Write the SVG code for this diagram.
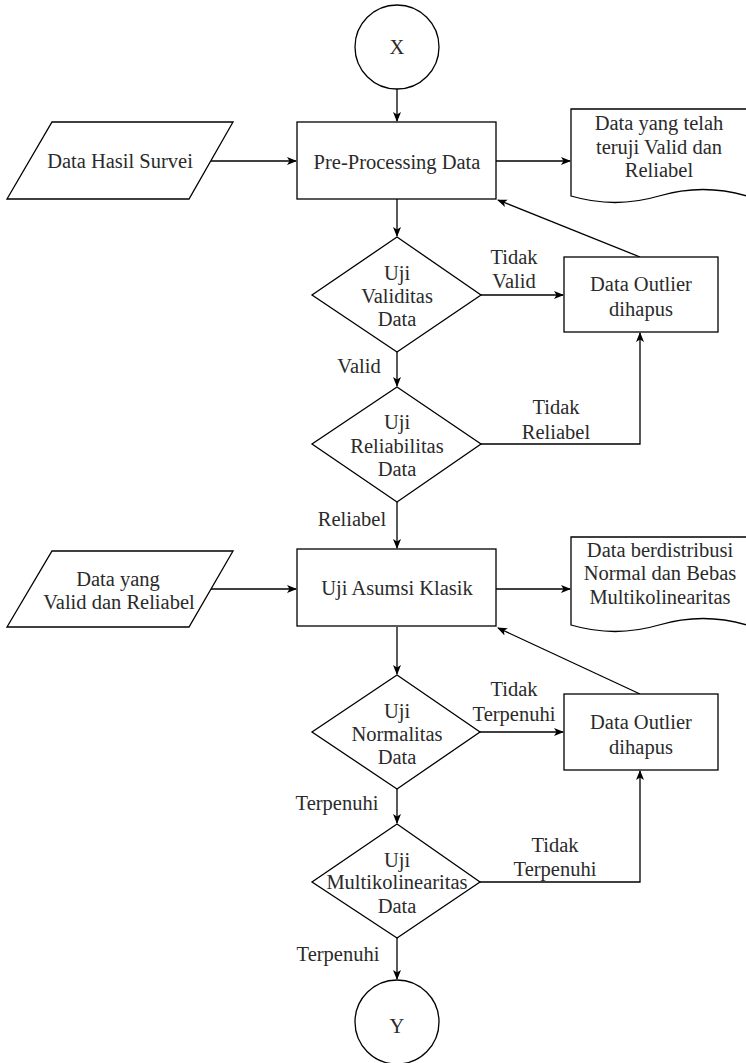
<svg xmlns="http://www.w3.org/2000/svg" width="746" height="1063" viewBox="0 0 746 1063">
<style>
.s{fill:#fff;stroke:#000;stroke-width:1.3}
.t{font-family:"Liberation Serif","Times New Roman",serif;font-size:20.5px;fill:#2a2a2a;text-anchor:middle}
.e{fill:none;stroke:#000;stroke-width:1.3}
</style>
<defs>
<marker id="a" viewBox="0 0 10 10" refX="9" refY="5" markerWidth="10" markerHeight="10" markerUnits="userSpaceOnUse" orient="auto">
<path d="M0,1 L10,5 L0,9 L2.5,5 Z" fill="#000"/>
</marker>
</defs>
<rect width="746" height="1063" fill="#fff"/>
<g id="connectors">
<path class="e" d="M397,89 V121" marker-end="url(#a)"/>
<path class="e" d="M211,161 H296" marker-end="url(#a)"/>
<path class="e" d="M496,161 H570" marker-end="url(#a)"/>
<path class="e" d="M397,199 V236" marker-end="url(#a)"/>
<path class="e" d="M481,295 H563" marker-end="url(#a)"/>
<path class="e" d="M640,257 L498,200" marker-end="url(#a)"/>
<path class="e" d="M397,352 V386" marker-end="url(#a)"/>
<path class="e" d="M481,444 H640 V333" marker-end="url(#a)"/>
<path class="e" d="M397,502 V548" marker-end="url(#a)"/>
<path class="e" d="M211,589 H296" marker-end="url(#a)"/>
<path class="e" d="M496,589 H570" marker-end="url(#a)"/>
<path class="e" d="M397,627 V674" marker-end="url(#a)"/>
<path class="e" d="M480,732 H563" marker-end="url(#a)"/>
<path class="e" d="M640,694 L498,628" marker-end="url(#a)"/>
<path class="e" d="M397,789 V823" marker-end="url(#a)"/>
<path class="e" d="M480,882 H640 V771" marker-end="url(#a)"/>
<path class="e" d="M397,938 V979" marker-end="url(#a)"/>
<text class="t" x="514" y="264">Tidak</text>
<text class="t" x="514" y="288">Valid</text>
<text class="t" x="359" y="373">Valid</text>
<text class="t" x="556" y="414">Tidak</text>
<text class="t" x="556" y="439">Reliabel</text>
<text class="t" x="352" y="526">Reliabel</text>
<text class="t" x="514" y="696">Tidak</text>
<text class="t" x="514" y="721">Terpenuhi</text>
<text class="t" x="337" y="810">Terpenuhi</text>
<text class="t" x="555" y="852">Tidak</text>
<text class="t" x="555" y="876">Terpenuhi</text>
<text class="t" x="338" y="961">Terpenuhi</text>
</g>
<g id="start-x">
<circle class="s" cx="397" cy="47" r="42"/>
<text class="t" x="397" y="54">X</text>
</g>
<g id="input-survei">
<polygon class="s" points="52,122 233,122 189,199 7,199"/>
<text class="t" x="120" y="168">Data Hasil Survei</text>
</g>
<g id="preprocessing">
<rect class="s" x="297" y="122" width="199" height="77"/>
<text class="t" x="397" y="169">Pre-Processing Data</text>
</g>
<g id="doc-valid-reliabel">
<path class="s" d="M571,109 H747 V196 Q703,183 659,196 Q615,209 571,196 Z"/>
<text class="t" x="659" y="130">Data yang telah</text>
<text class="t" x="659" y="154">teruji Valid dan</text>
<text class="t" x="659" y="177">Reliabel</text>
</g>
<g id="uji-validitas">
<polygon class="s" points="397,237 481,295 397,352 312,295"/>
<text class="t" x="397" y="280">Uji</text>
<text class="t" x="397" y="303">Validitas</text>
<text class="t" x="397" y="326">Data</text>
</g>
<g id="outlier-1">
<rect class="s" x="564" y="257" width="154" height="75"/>
<text class="t" x="641" y="291">Data Outlier</text>
<text class="t" x="641" y="316">dihapus</text>
</g>
<g id="uji-reliabilitas">
<polygon class="s" points="397,387 481,444 397,502 312,444"/>
<text class="t" x="397" y="429">Uji</text>
<text class="t" x="397" y="453">Reliabilitas</text>
<text class="t" x="397" y="476">Data</text>
</g>
<g id="input-valid-reliabel">
<polygon class="s" points="52,551 233,551 189,627 7,627"/>
<text class="t" x="118" y="586">Data yang</text>
<text class="t" x="119" y="609">Valid dan Reliabel</text>
</g>
<g id="uji-asumsi">
<rect class="s" x="297" y="549" width="199" height="77"/>
<text class="t" x="397" y="595">Uji Asumsi Klasik</text>
</g>
<g id="doc-normal">
<path class="s" d="M571,537 H747 V625 Q703,612 659,625 Q615,638 571,625 Z"/>
<text class="t" x="660" y="557">Data berdistribusi</text>
<text class="t" x="660" y="580">Normal dan Bebas</text>
<text class="t" x="660" y="604">Multikolinearitas</text>
</g>
<g id="uji-normalitas">
<polygon class="s" points="397,675 480,732 397,789 312,732"/>
<text class="t" x="397" y="718">Uji</text>
<text class="t" x="397" y="741">Normalitas</text>
<text class="t" x="397" y="764">Data</text>
</g>
<g id="outlier-2">
<rect class="s" x="564" y="694" width="154" height="76"/>
<text class="t" x="641" y="729">Data Outlier</text>
<text class="t" x="641" y="754">dihapus</text>
</g>
<g id="uji-multikolinearitas">
<polygon class="s" points="397,824 480,882 397,938 312,882"/>
<text class="t" x="397" y="867">Uji</text>
<text class="t" x="397" y="889">Multikolinearitas</text>
<text class="t" x="397" y="913">Data</text>
</g>
<g id="end-y">
<circle class="s" cx="397" cy="1022" r="42"/>
<text class="t" x="397" y="1033">Y</text>
</g>
</svg>
